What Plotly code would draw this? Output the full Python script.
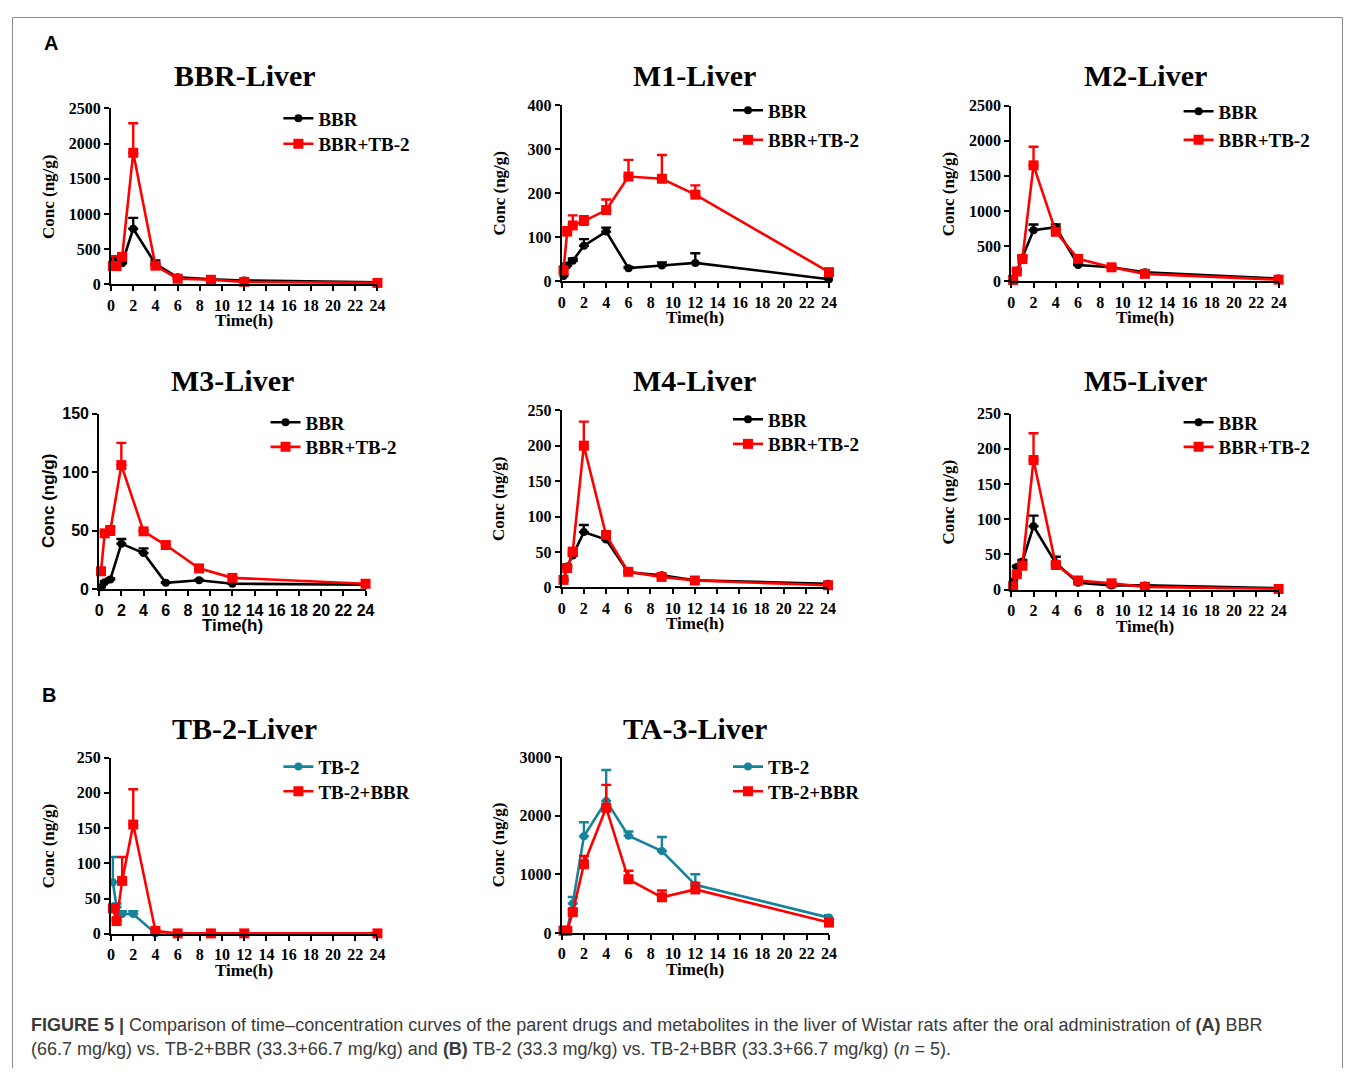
import plotly.graph_objects as go

# ---------------- data ----------------
time_h = [0.167, 0.5, 1, 2, 4, 6, 9, 12, 24]
x_ticks = list(range(0, 25, 2))

# A: BBR-Liver
bbr_liver_bbr = [330, 300, 300, 790, 290, 100, 70, 55, 30]
bbr_liver_bbr_sd = [50, 30, 20, 155, 50, 10, 10, 10, 5]
bbr_liver_comb = [260, 260, 390, 1870, 265, 80, 65, 35, 20]
bbr_liver_comb_sd = [140, 20, 30, 420, 30, 10, 10, 10, 5]

# A: M1-Liver
m1_bbr = [12, 36, 47, 81, 113, 30, 36, 42, 5]
m1_bbr_sd = [5, 5, 5, 15, 9, 3, 7, 22, 2]
m1_comb = [25, 113, 127, 137, 162, 238, 233, 197, 21]
m1_comb_sd = [5, 10, 23, 11, 24, 38, 54, 21, 3]

# A: M2-Liver
m2_bbr = [20, 150, 340, 728, 770, 233, 200, 130, 40]
m2_bbr_sd = [5, 20, 30, 80, 40, 20, 15, 15, 5]
m2_comb = [20, 140, 317, 1650, 705, 320, 200, 107, 25]
m2_comb_sd = [5, 20, 30, 265, 40, 20, 15, 10, 5]

# A: M3-Liver
m3_bbr = [1.7, 6, 8.4, 39, 31, 5.6, 7.8, 4.8, 4]
m3_bbr_sd = [0.5, 1, 1, 4, 4, 0.5, 0.5, 0.5, 0.3]
m3_comb = [15.4, 47.8, 49.8, 106, 49.5, 37.8, 17.9, 9.8, 4.8]
m3_comb_sd = [1, 2, 4, 19, 1, 1, 1, 0.5, 0.5]

# A: M4-Liver
m4_bbr = [10, 29.6, 45, 78, 67.6, 21.3, 17, 10, 5]
m4_bbr_sd = [1, 2, 3, 10, 3, 2, 1, 1, 0.5]
m4_comb = [10.6, 27.3, 50.5, 200, 74, 22, 14.8, 9.7, 3]
m4_comb_sd = [1, 2, 3, 34, 3, 2, 1, 1, 0.5]

# A: M5-Liver
m5_bbr = [12, 32, 40, 90, 37.7, 9.8, 6, 6, 2]
m5_bbr_sd = [1, 2, 2, 15, 9, 1, 1, 1, 0.3]
m5_comb = [5, 22, 34, 184, 35, 13, 9, 4, 1]
m5_comb_sd = [1, 2, 2, 38, 2, 1, 1, 0.5, 0.3]

# B: TB-2-Liver
tb2_tb2 = [73, 38, 28, 28, 0.5, 0.3, 0.3, 0.3, 0.3]
tb2_tb2_sd = [36, 5, 4, 4, 0, 0, 0, 0, 0]
tb2_comb = [36, 18, 75, 155, 4, 0.5, 0.5, 0.5, 0.5]
tb2_comb_sd = [3, 3, 34, 50, 1, 0, 0, 0, 0]

# B: TA-3-Liver
ta3_tb2 = [56, 60, 503, 1648, 2251, 1659, 1397, 821, 263]
ta3_tb2_sd = [20, 20, 110, 240, 525, 70, 240, 180, 40]
ta3_comb = [40, 40, 357, 1173, 2134, 916, 609, 743, 179]
ta3_comb_sd = [10, 10, 40, 140, 390, 145, 117, 112, 20]

# ---------------- layout helpers ----------------
# The page keeps the browser's 8 px body margin, so the figure is 16 px
# smaller than the window and page coordinates are shifted by 8 px.
PAGE_W, PAGE_H = 1360, 1076
OFF = 8
W, H = PAGE_W - 2 * OFF, PAGE_H - 2 * OFF
BLACK, RED, TEAL = "#000000", "#ff0000", "#17839a"
SERIF = "Liberation Serif"
SANS = "Liberation Sans"


def px(x):
    return (x - OFF) / W


def py(y):
    return 1 - (y - OFF) / H


panels = [
    dict(title="BBR-Liver", ax=108, ax24=377, yb=280.7, yt=102, ymax=2500, dtick=500, fam=SERIF,
         tx=243, ty=68, legx=317, legys=(112, 138),
         series=[("BBR", bbr_liver_bbr, bbr_liver_bbr_sd, BLACK, "circle"),
                 ("BBR+TB-2", bbr_liver_comb, bbr_liver_comb_sd, RED, "square")]),
    dict(title="M1-Liver", ax=563, ax24=833, yb=277.7, yt=98.7, ymax=400, dtick=100, fam=SERIF,
         tx=697, ty=68, legx=771, legys=(104, 134),
         series=[("BBR", m1_bbr, m1_bbr_sd, BLACK, "circle"),
                 ("BBR+TB-2", m1_comb, m1_comb_sd, RED, "square")]),
    dict(title="M2-Liver", ax=1017, ax24=1287, yb=277.7, yt=99, ymax=2500, dtick=500, fam=SERIF,
         tx=1153, ty=68, legx=1226, legys=(105, 134),
         series=[("BBR", m2_bbr, m2_bbr_sd, BLACK, "circle"),
                 ("BBR+TB-2", m2_comb, m2_comb_sd, RED, "square")]),
    dict(title="M3-Liver", ax=96, ax24=365, yb=590.7, yt=412, ymax=150, dtick=50, fam=SANS,
         tx=231, ty=378, legx=304, legys=(421, 446),
         series=[("BBR", m3_bbr, m3_bbr_sd, BLACK, "circle"),
                 ("BBR+TB-2", m3_comb, m3_comb_sd, RED, "square")]),
    dict(title="M4-Liver", ax=563, ax24=832, yb=588.7, yt=408.7, ymax=250, dtick=50, fam=SERIF,
         tx=697, ty=378, legx=771, legys=(418, 443),
         series=[("BBR", m4_bbr, m4_bbr_sd, BLACK, "circle"),
                 ("BBR+TB-2", m4_comb, m4_comb_sd, RED, "square")]),
    dict(title="M5-Liver", ax=1017, ax24=1287, yb=591, yt=412, ymax=250, dtick=50, fam=SERIF,
         tx=1153, ty=378, legx=1226, legys=(421, 446),
         series=[("BBR", m5_bbr, m5_bbr_sd, BLACK, "circle"),
                 ("BBR+TB-2", m5_comb, m5_comb_sd, RED, "square")]),
    dict(title="TB-2-Liver", ax=108, ax24=377, yb=940.7, yt=761.7, ymax=250, dtick=50, fam=SERIF,
         tx=243, ty=732, legx=317, legys=(771, 796),
         series=[("TB-2", tb2_tb2, tb2_tb2_sd, TEAL, "circle"),
                 ("TB-2+BBR", tb2_comb, tb2_comb_sd, RED, "square")]),
    dict(title="TA-3-Liver", ax=563, ax24=833, yb=940, yt=761, ymax=3000, dtick=1000, fam=SERIF,
         tx=698, ty=732, legx=771, legys=(771, 796),
         series=[("TB-2", ta3_tb2, ta3_tb2_sd, TEAL, "circle"),
                 ("TB-2+BBR", ta3_comb, ta3_comb_sd, RED, "square")]),
]

fig = go.Figure()
annotations = []
layout_extra = {}
leg_k = 0

for i, p in enumerate(panels, start=1):
    sfx = "" if i == 1 else str(i)
    for j, (name, vals, sd, color, sym) in enumerate(p["series"]):
        leg_k += 1
        legname = "legend" if leg_k == 1 else f"legend{leg_k}"
        fig.add_trace(go.Scatter(
            x=time_h, y=vals, name=name, mode="lines+markers",
            line=dict(color=color, width=2.6),
            marker=dict(color=color, symbol=sym, size=8 if sym == "circle" else 10),
            error_y=dict(type="data", symmetric=False, array=sd,
                         arrayminus=[0] * len(sd), color=color, thickness=2.4, width=5),
            xaxis=f"x{sfx}", yaxis=f"y{sfx}", cliponaxis=False,
            legend=legname, showlegend=True,
        ))
        layout_extra[legname] = dict(
            x=px(p["legx"] - 40), y=py(p["legys"][j]), xanchor="left", yanchor="middle",
            bgcolor="rgba(0,0,0,0)", borderwidth=0, itemwidth=30,
            font=dict(family=SERIF, size=19, color="black", weight="bold"))
    tickfont = dict(family=p["fam"], size=16, color="black", weight="bold")
    layout_extra[f"xaxis{sfx}"] = dict(
        domain=[px(p["ax"]), px(p["ax24"])], range=[0, 24], anchor=f"y{sfx}",
        tickmode="array", tickvals=x_ticks, ticktext=[str(v) for v in x_ticks],
        ticks="outside", ticklen=5, tickwidth=2, tickcolor="black",
        showline=True, linewidth=2, linecolor="black",
        showgrid=False, zeroline=False, tickfont=tickfont, fixedrange=True)
    layout_extra[f"yaxis{sfx}"] = dict(
        domain=[py(p["yb"]), py(p["yt"])], range=[0, p["ymax"]], anchor=f"x{sfx}",
        tick0=0, dtick=p["dtick"],
        ticks="outside", ticklen=5, tickwidth=2, tickcolor="black",
        showline=True, linewidth=2, linecolor="black",
        showgrid=False, zeroline=False, tickfont=tickfont, fixedrange=True)
    # panel title
    annotations.append(dict(
        text=p["title"], x=px(p["tx"]), y=py(p["ty"]), xref="paper", yref="paper",
        xanchor="center", yanchor="middle", showarrow=False,
        font=dict(family=SERIF, size=30, color="black", weight="bold")))
    # axis titles
    yoff = 51 if p["fam"] == SANS else 63
    annotations.append(dict(
        text="Conc (ng/g)", x=px(p["ax"] - yoff), y=py((p["yb"] + p["yt"]) / 2),
        xref="paper", yref="paper", xanchor="center", yanchor="middle",
        textangle=-90, showarrow=False,
        font=dict(family=p["fam"], size=17, color="black", weight="bold")))
    annotations.append(dict(
        text="Time(h)", x=px((p["ax"] + p["ax24"]) / 2), y=py(p["yb"] + 37),
        xref="paper", yref="paper", xanchor="center", yanchor="middle", showarrow=False,
        font=dict(family=p["fam"], size=17, color="black", weight="bold")))

# panel letters
for letter, lx, ly in [("A", 47, 35), ("B", 45, 698)]:
    annotations.append(dict(
        text=letter, x=px(lx), y=py(ly), xref="paper", yref="paper",
        xanchor="center", yanchor="middle", showarrow=False,
        font=dict(family=SANS, size=20, color="black", weight="bold")))

# caption
cap1 = ("<b>FIGURE 5 |</b> Comparison of time–concentration curves of the parent drugs and "
        "metabolites in the liver of Wistar rats after the oral administration of <b>(A)</b> BBR")
cap2 = ("(66.7 mg/kg) vs. TB-2+BBR (33.3+66.7 mg/kg) and <b>(B)</b> TB-2 (33.3 mg/kg) vs. "
        "TB-2+BBR (33.3+66.7 mg/kg) (<i>n</i> = 5).")
for txt, cy in [(cap1, 1033), (cap2, 1058)]:
    annotations.append(dict(
        text=txt, x=px(25), y=py(cy), xref="paper", yref="paper",
        xanchor="left", yanchor="middle", showarrow=False, align="left",
        font=dict(family=SANS, size=18, color="#3a3a3a")))

fig.update_layout(
    width=W, height=H, margin=dict(l=0, r=0, t=0, b=0),
    paper_bgcolor="white", plot_bgcolor="white",
    annotations=annotations,
    shapes=[dict(type="rect", xref="paper", yref="paper",
                 x0=px(8.5), x1=px(1351.5), y0=py(1100), y1=py(9.5),
                 line=dict(color="#8a8a8a", width=1), fillcolor="rgba(0,0,0,0)")],
    **layout_extra,
)

fig.write_html("out.html", config={"displayModeBar": False})
